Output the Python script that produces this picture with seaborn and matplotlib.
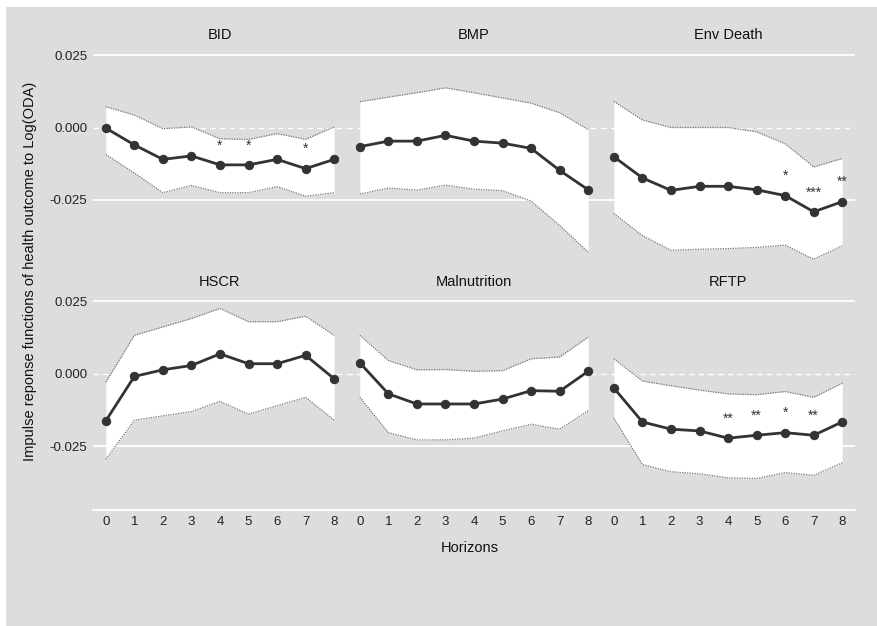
import numpy as np
import pandas as pd
import matplotlib
matplotlib.use("Agg")
import matplotlib.pyplot as plt
from matplotlib.patches import Rectangle
import seaborn as sns

# Impulse responses of each health outcome to a shock in Log(ODA)
horizons = [0, 1, 2, 3, 4, 5, 6, 7, 8]
outcomes = ["BID", "BMP", "Env Death", "HSCR", "Malnutrition", "RFTP"]

bid_irf = [-0.0002, -0.0060, -0.0110, -0.0098, -0.0129, -0.0129, -0.0110, -0.0142, -0.0110]
bid_hi = [0.0072, 0.0043, -0.0004, 0.0002, -0.0039, -0.0041, -0.0021, -0.0041, 0.0002]
bid_lo = [-0.0093, -0.0157, -0.0225, -0.0200, -0.0225, -0.0225, -0.0204, -0.0237, -0.0225]
bid_sig = ["", "", "", "", "*", "*", "", "*", ""]

bmp_irf = [-0.0066, -0.0047, -0.0047, -0.0027, -0.0047, -0.0054, -0.0072, -0.0148, -0.0215]
bmp_hi = [0.0089, 0.0105, 0.0120, 0.0137, 0.0120, 0.0102, 0.0084, 0.0051, -0.0007]
bmp_lo = [-0.0230, -0.0209, -0.0216, -0.0199, -0.0213, -0.0218, -0.0254, -0.0338, -0.0430]
bmp_sig = ["", "", "", "", "", "", "", "", ""]

env_irf = [-0.0101, -0.0174, -0.0217, -0.0203, -0.0203, -0.0215, -0.0235, -0.0291, -0.0256]
env_hi = [0.0090, 0.0026, 0.0000, 0.0000, 0.0000, -0.0015, -0.0056, -0.0136, -0.0107]
env_lo = [-0.0297, -0.0373, -0.0424, -0.0420, -0.0418, -0.0414, -0.0406, -0.0455, -0.0408]
env_sig = ["", "", "", "", "", "", "*", "***", "**"]

hscr_irf = [-0.0162, -0.0009, 0.0014, 0.0029, 0.0069, 0.0035, 0.0035, 0.0064, -0.0017]
hscr_hi = [-0.0029, 0.0133, 0.0162, 0.0191, 0.0226, 0.0180, 0.0180, 0.0199, 0.0133]
hscr_lo = [-0.0295, -0.0160, -0.0145, -0.0130, -0.0095, -0.0139, -0.0110, -0.0081, -0.0160]
hscr_sig = ["", "", "", "", "", "", "", "", ""]

mal_irf = [0.0038, -0.0069, -0.0104, -0.0104, -0.0104, -0.0087, -0.0058, -0.0060, 0.0009]
mal_hi = [0.0133, 0.0046, 0.0014, 0.0015, 0.0009, 0.0011, 0.0052, 0.0058, 0.0127]
mal_lo = [-0.0081, -0.0203, -0.0228, -0.0228, -0.0222, -0.0197, -0.0174, -0.0191, -0.0127]
mal_sig = ["", "", "", "", "", "", "", "", ""]

rftp_irf = [-0.0049, -0.0166, -0.0191, -0.0197, -0.0222, -0.0212, -0.0203, -0.0212, -0.0166]
rftp_hi = [0.0052, -0.0025, -0.0041, -0.0056, -0.0069, -0.0072, -0.0061, -0.0081, -0.0032]
rftp_lo = [-0.0153, -0.0313, -0.0338, -0.0345, -0.0359, -0.0361, -0.0341, -0.0350, -0.0307]
rftp_sig = ["", "", "", "", "**", "**", "*", "**", ""]

y_ticks = [0.025, 0.000, -0.025]
y_ticklabels = ["0.025", "0.000", "-0.025"]

series = {
    "BID": (bid_irf, bid_hi, bid_lo, bid_sig),
    "BMP": (bmp_irf, bmp_hi, bmp_lo, bmp_sig),
    "Env Death": (env_irf, env_hi, env_lo, env_sig),
    "HSCR": (hscr_irf, hscr_hi, hscr_lo, hscr_sig),
    "Malnutrition": (mal_irf, mal_hi, mal_lo, mal_sig),
    "RFTP": (rftp_irf, rftp_hi, rftp_lo, rftp_sig),
}

frames = []
for name in outcomes:
    irf, hi, lo, sig = series[name]
    frames.append(pd.DataFrame({
        "outcome": name, "horizon": horizons,
        "irf": irf, "upper": hi, "lower": lo, "sig": sig,
    }))
df = pd.concat(frames, ignore_index=True)

BG = "#dddddd"
sns.set_theme(style="white")
plt.rcParams["font.family"] = ["Liberation Sans", "DejaVu Sans"]

g = sns.FacetGrid(df, col="outcome", col_wrap=3, col_order=outcomes,
                  sharex=True, sharey=True, height=2.2, aspect=1.16,
                  despine=False)
fig = g.figure
fig.set_size_inches(8.77, 6.26)
fig.set_dpi(100)
fig.patch.set_facecolor("white")
fig.patches.append(Rectangle((6 / 877, 0), 1, 1 - 7 / 626,
                             transform=fig.transFigure, facecolor=BG,
                             edgecolor="none", zorder=-10))


def draw_irf(data, **kws):
    ax = plt.gca()
    ax.fill_between(data["horizon"], data["lower"], data["upper"],
                    color="white", linewidth=0, zorder=2)
    for col in ("upper", "lower"):
        sns.lineplot(data=data, x="horizon", y=col, ax=ax, color="#777777",
                     linewidth=0.9, linestyle=(0, (1, 1)), zorder=3)
    sns.lineplot(data=data, x="horizon", y="irf", ax=ax, color="#333333",
                 linewidth=2.0, marker="o", markersize=6,
                 markeredgecolor="#333333", zorder=4)
    for h, v, s in zip(data["horizon"], data["irf"], data["sig"]):
        if s:
            ax.annotate(s, (h, v), xytext=(0, 14), textcoords="offset points",
                        ha="center", va="center", fontsize=10, color="#333333",
                        zorder=5)


g.map_dataframe(draw_irf)

ylim = (-0.047, 0.029)
for i, ax in enumerate(g.axes.flat):
    ax.set_facecolor(BG)
    ax.set_xlim(-0.45, 8.45)
    ax.set_ylim(*ylim)
    for side in ("top", "right", "left", "bottom"):
        ax.spines[side].set_visible(False)
    for yv in (0.025, -0.025):
        ax.axhline(yv, color="white", linewidth=1.3, zorder=1)
    ax.axhline(0.0, color="white", linewidth=1.0, linestyle=(0, (4, 3)), zorder=1)
    if i >= 3:
        ax.spines["bottom"].set_visible(True)
        ax.spines["bottom"].set_color("white")
        ax.spines["bottom"].set_linewidth(1.3)
    ax.set_yticks(y_ticks)
    ax.set_yticklabels(y_ticklabels)
    ax.set_xticks(horizons)
    ax.tick_params(axis="both", length=0, labelsize=9.5, colors="#222222",
                   pad=4)
    ax.set_xlabel("")
    ax.set_ylabel("")

g.set_titles("{col_name}", size=10.5, color="#111111", pad=3)

fig.subplots_adjust(left=0.106, right=0.975, top=0.9305, bottom=0.1853,
                    wspace=0.0, hspace=0.119)

fig.text(0.536, 1 - 548 / 626, "Horizons", ha="center", va="center",
         fontsize=10.5, color="#111111")
fig.text(30 / 877, 1 - 271 / 626,
         "Impulse reponse functions of health outcome to Log(ODA)",
         rotation=90, ha="center", va="center", fontsize=10.5, color="#111111")

fig.savefig("out.png", dpi=100, facecolor=fig.get_facecolor())
